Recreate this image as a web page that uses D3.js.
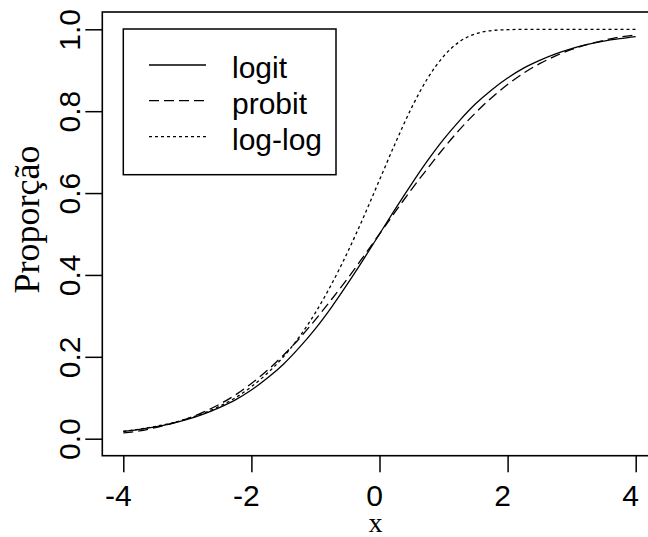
<!DOCTYPE html>
<meta charset="utf-8" />
<script src="https://d3js.org/d3.v7.min.js"></script>
<head>
<style type="text/css">
  body { margin: 0; background: white; }
  .tick-label { font-family: "Liberation Sans", Arial, sans-serif; font-size: 30px; fill: black; }
  .legend-text { font-family: "Liberation Sans", Arial, sans-serif; font-size: 30px; fill: black; }
  .axis-title { font-family: "Liberation Serif", "Times New Roman", serif; fill: black; }
</style>
</head>
<body>
<svg id="chart" width="648" height="537"></svg>
<script>
  // values, x from -4 to 4 in steps of 0.25
  const xs = [-4, -3.75, -3.5, -3.25, -3, -2.75, -2.5, -2.25, -2, -1.75, -1.5, -1.25, -1, -0.75, -0.5, -0.25,
    0, 0.25, 0.5, 0.75, 1, 1.25, 1.5, 1.75, 2, 2.25, 2.5, 2.75, 3, 3.25, 3.5, 3.75, 4];
  const logit = [0.018, 0.023, 0.029, 0.037, 0.047, 0.060, 0.076, 0.095, 0.119, 0.148, 0.182, 0.223, 0.269, 0.321, 0.378, 0.438,
    0.500, 0.562, 0.622, 0.679, 0.731, 0.777, 0.818, 0.852, 0.881, 0.905, 0.924, 0.940, 0.953, 0.963, 0.971, 0.977, 0.982];
  const probit = [0.014, 0.019, 0.027, 0.037, 0.049, 0.065, 0.084, 0.107, 0.135, 0.167, 0.204, 0.245, 0.291, 0.340, 0.391, 0.445,
    0.500, 0.555, 0.609, 0.660, 0.709, 0.755, 0.796, 0.833, 0.865, 0.893, 0.916, 0.935, 0.951, 0.963, 0.973, 0.981, 0.986];
  const loglog = [0.018, 0.023, 0.030, 0.038, 0.049, 0.062, 0.079, 0.100, 0.127, 0.160, 0.200, 0.249, 0.308, 0.377, 0.455, 0.541,
    0.632, 0.723, 0.808, 0.880, 0.934, 0.970, 0.989, 0.997, 0.999, 1.000, 1.000, 1.000, 1.000, 1.000, 1.000, 1.000, 1.000];

  const xTicks = [-4, -2, 0, 2, 4];
  const yTicks = [0.0, 0.2, 0.4, 0.6, 0.8, 1.0];
  const seriesNames = ["logit", "probit", "log-log"];
  const seriesDash = ["none", "10,5", "3,3"];

  const svg = d3.select("#chart");

  // plot box (right side runs past the picture edge, like the original)
  const box = { left: 102.3, top: 12, right: 657, bottom: 455.7 };

  const x = d3.scaleLinear().domain([-4, 4]).range([123.3, 635.7]);
  const y = d3.scaleLinear().domain([0, 1]).range([438.7, 29.3]);

  // box
  svg.append("rect")
    .attr("x", box.left).attr("y", box.top)
    .attr("width", box.right - box.left).attr("height", box.bottom - box.top)
    .attr("fill", "none").attr("stroke", "black").attr("stroke-width", 1.6);

  // x axis
  const xAxis = svg.append("g").attr("transform", "translate(0," + box.bottom + ")");
  xAxis.call(d3.axisBottom(x).tickValues(xTicks).tickSize(16.5).tickFormat(d3.format("d")));
  xAxis.select(".domain").remove();
  xAxis.selectAll(".tick line").attr("stroke", "black").attr("stroke-width", 1.5);
  xAxis.selectAll(".tick text")
    .attr("class", "tick-label")
    .attr("font-size", null).attr("font-family", null)
    .attr("y", 0).attr("dy", null)
    .attr("transform", "translate(-5.5,50)")
    .text(d => d < 0 ? "-" + Math.abs(d) : d);

  // y axis, labels turned like R's las=0
  const yAxis = svg.append("g").attr("transform", "translate(" + box.left + ",0)");
  yAxis.call(d3.axisLeft(y).tickValues(yTicks).tickSize(17).tickFormat(d3.format(".1f")));
  yAxis.select(".domain").remove();
  yAxis.selectAll(".tick line").attr("stroke", "black").attr("stroke-width", 1.5);
  yAxis.selectAll(".tick text")
    .attr("class", "tick-label")
    .attr("font-size", null).attr("font-family", null)
    .attr("x", 0).attr("y", 0).attr("dy", null)
    .attr("text-anchor", "middle")
    .attr("transform", "translate(-22,0) rotate(-90)");

  // axis titles
  svg.append("text")
    .attr("class", "axis-title")
    .attr("font-size", 28)
    .attr("x", 375.5).attr("y", 532)
    .attr("text-anchor", "middle")
    .text("x");

  svg.append("text")
    .attr("class", "axis-title")
    .attr("font-size", 36)
    .attr("text-anchor", "middle")
    .attr("transform", "translate(38.5,219.5) rotate(-90)")
    .text("Proporção");

  // curves
  const seriesValues = [logit, probit, loglog];
  const line = d3.line()
    .x(d => x(d[0]))
    .y(d => y(d[1]))
    .curve(d3.curveMonotoneX);

  seriesValues.forEach(function (vals, i) {
    svg.append("path")
      .datum(xs.map((v, j) => [v, vals[j]]))
      .attr("d", line)
      .attr("fill", "none")
      .attr("stroke", "black")
      .attr("stroke-width", 1.3)
      .attr("stroke-dasharray", seriesDash[i]);
  });

  // legend
  const legend = svg.append("g").attr("class", "legend");
  legend.append("rect")
    .attr("x", 123.3).attr("y", 29)
    .attr("width", 336 - 123.3).attr("height", 174.7 - 29)
    .attr("fill", "white").attr("stroke", "black").attr("stroke-width", 1.5);

  const rowY = [65, 100.7, 136.7];
  seriesNames.forEach(function (name, i) {
    legend.append("line")
      .attr("x1", 149).attr("x2", 206)
      .attr("y1", rowY[i]).attr("y2", rowY[i])
      .attr("stroke", "black").attr("stroke-width", 1.3)
      .attr("stroke-dasharray", seriesDash[i]);
    legend.append("text")
      .attr("class", "legend-text")
      .attr("x", 232).attr("y", rowY[i] + 13)
      .text(name);
  });
</script>
</body>
